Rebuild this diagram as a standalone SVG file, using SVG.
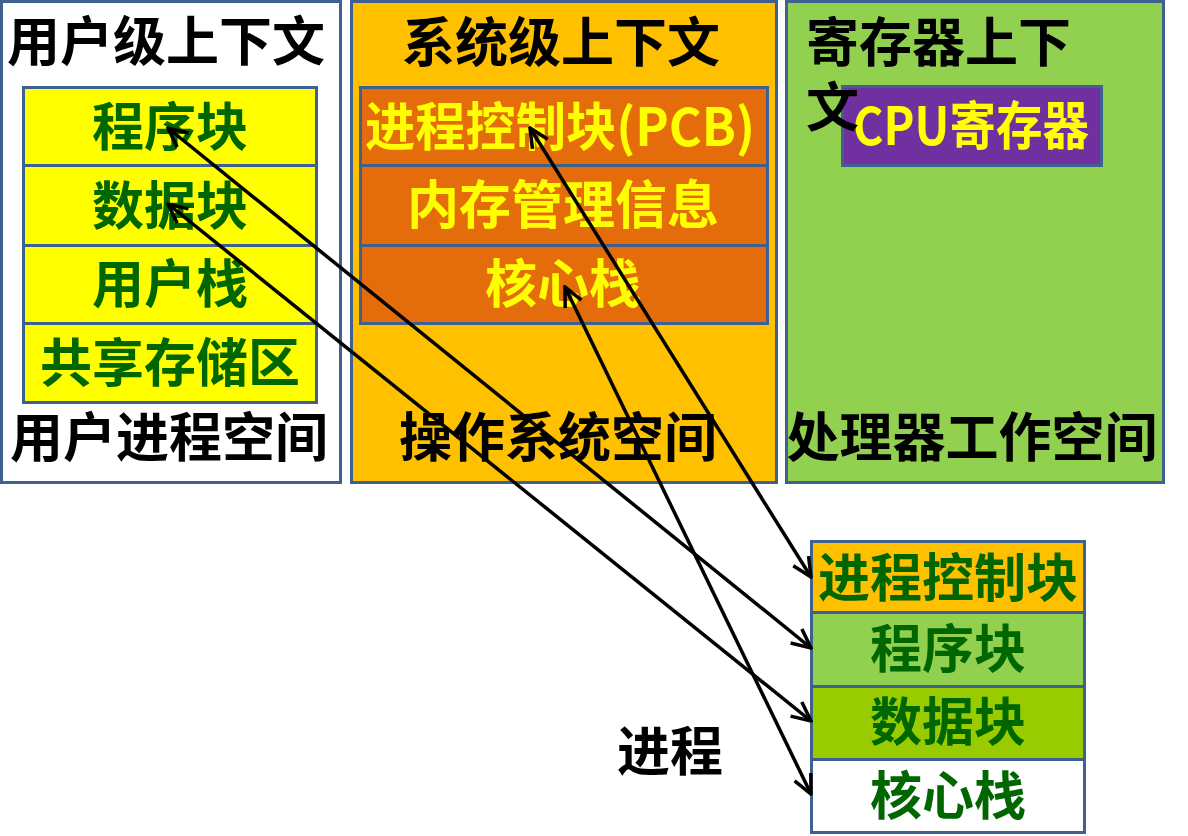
<svg xmlns="http://www.w3.org/2000/svg" width="1188" height="836" viewBox="0 0 1188 836">
<style>
.box{stroke:#3E6190;stroke-width:3}
.t{font-family:"Noto Sans CJK SC","Liberation Sans",sans-serif;font-size:52px;text-anchor:middle}
.title{font-weight:bold;fill:#000;font-size:53px}
.g{font-weight:bold;fill:#006600}
.y{font-weight:bold;fill:#FFFF00}
.c{fill:none;stroke:#000;stroke-width:3.5}
</style>
<defs>
<marker id="ah" viewBox="0 0 24 24" refX="22" refY="12" markerWidth="24" markerHeight="24" markerUnits="userSpaceOnUse" orient="auto-start-reverse">
<path d="M3,3 L22,12 L3,21" fill="none" stroke="#000" stroke-width="3.5"/>
</marker>
</defs>
<rect width="1188" height="836" fill="#fff"/>
<g id="user-space">
<rect class="box" x="1.5" y="1.5" width="339" height="481" fill="#fff"/>
<text class="t title" x="166" y="61">用户级上下文</text>
<rect class="box" x="23.5" y="87.5" width="293" height="78" fill="#FFFF00"/>
<text class="t g" x="170" y="146">程序块</text>
<rect class="box" x="23.5" y="165.5" width="293" height="80" fill="#FFFF00"/>
<text class="t g" x="170" y="225">数据块</text>
<rect class="box" x="23.5" y="245.5" width="293" height="78" fill="#FFFF00"/>
<text class="t g" x="170" y="303">用户栈</text>
<rect class="box" x="23.5" y="323.5" width="293" height="79" fill="#FFFF00"/>
<text class="t g" x="170" y="382">共享存储区</text>
<text class="t title" x="169" y="457">用户进程空间</text>
</g>
<g id="os-space">
<rect class="box" x="351.5" y="1.5" width="425" height="481" fill="#FFC000"/>
<text class="t title" x="561" y="62">系统级上下文</text>
<rect class="box" x="360.5" y="87.5" width="407" height="78" fill="#E46C0A"/>
<text class="t y" x="560" y="146" textLength="390" lengthAdjust="spacingAndGlyphs">进程控制块(PCB)</text>
<rect class="box" x="360.5" y="165.5" width="407" height="80" fill="#E46C0A"/>
<text class="t y" x="563" y="224">内存管理信息</text>
<rect class="box" x="360.5" y="245.5" width="407" height="78" fill="#E46C0A"/>
<text class="t y" x="563" y="303">核心栈</text>
<text class="t title" x="558" y="457">操作系统空间</text>
</g>
<g id="cpu-space">
<rect class="box" x="786.5" y="1.5" width="377" height="481" fill="#92D050"/>
<rect class="box" x="842.5" y="86.5" width="259" height="79" fill="#7030A0"/>
<text class="t y" x="971" y="145" textLength="236" lengthAdjust="spacingAndGlyphs">CPU寄存器</text>
<text class="t title" x="806" y="62" style="text-anchor:start">寄存器上下</text>
<text class="t title" x="806" y="127" style="text-anchor:start">文</text>
<text class="t title" x="972" y="457">处理器工作空间</text>
</g>
<g id="process">
<rect class="box" x="811.5" y="541.5" width="273" height="71" fill="#FFC000"/>
<text class="t g" x="948" y="597">进程控制块</text>
<rect class="box" x="811.5" y="612.5" width="273" height="74" fill="#92D050"/>
<text class="t g" x="948" y="668">程序块</text>
<rect class="box" x="811.5" y="686.5" width="273" height="73" fill="#99CC00"/>
<text class="t g" x="948" y="741">数据块</text>
<rect class="box" x="811.5" y="759.5" width="273" height="73" fill="#fff"/>
<text class="t g" x="948" y="815">核心栈</text>
<text class="t title" x="670" y="771">进程</text>
</g>
<g id="connectors">
<line class="c" x1="530" y1="128" x2="811" y2="577" marker-start="url(#ah)" marker-end="url(#ah)"/>
<line class="c" x1="168" y1="128" x2="811" y2="648" marker-start="url(#ah)" marker-end="url(#ah)"/>
<line class="c" x1="168" y1="204" x2="811" y2="721" marker-start="url(#ah)" marker-end="url(#ah)"/>
<line class="c" x1="565" y1="287" x2="811" y2="794" marker-start="url(#ah)" marker-end="url(#ah)"/>
</g>
</svg>
